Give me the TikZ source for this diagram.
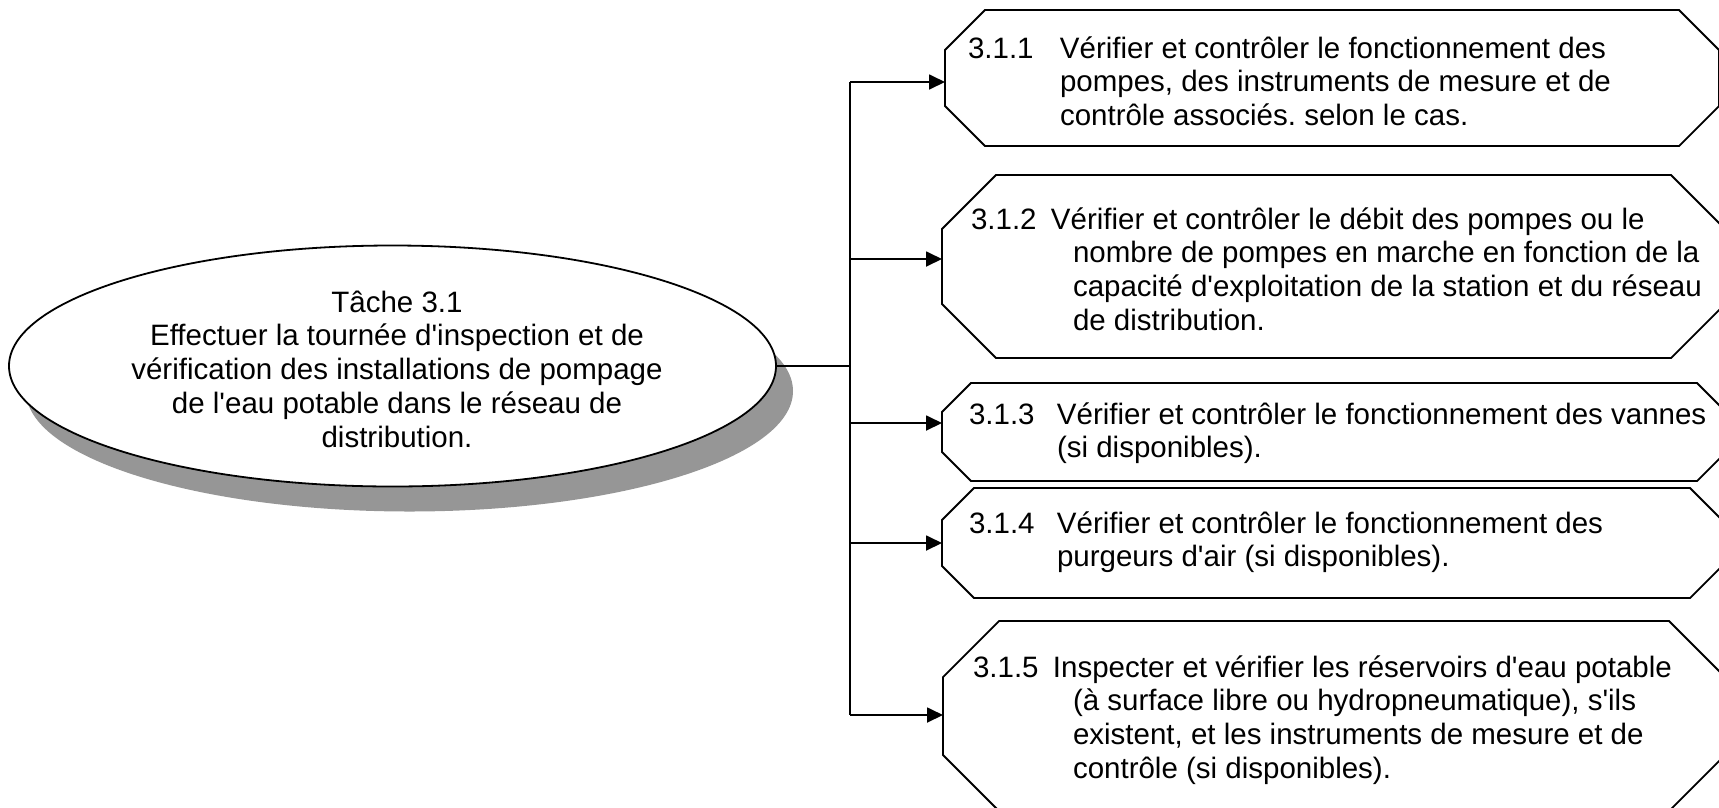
\documentclass[tikz,border=0pt]{standalone}
\usepackage{fontspec}
\newfontfamily\arial{Liberation Sans}
\usetikzlibrary{arrows.meta,shapes.geometric,calc}
\definecolor{shadowgray}{RGB}{150,150,150}
\newcommand{\lbl}[2]{\makebox[#1][l]{#2}}
\newcommand{\drawocta}[2]{%
  \draw[boxline] ($(#1.north west)+(#2,0)$) -- ($(#1.north east)+(-#2,0)$)
    -- ($(#1.north east)+(0,#2)$) -- ($(#1.south east)+(0,-#2)$)
    -- ($(#1.south east)+(-#2,0)$) -- ($(#1.south west)+(#2,0)$)
    -- ($(#1.south west)+(0,-#2)$) -- ($(#1.north west)+(0,#2)$) -- cycle;}
\frenchspacing
\begin{document}
\begin{tikzpicture}[x=1pt,y=-1pt,
  boxline/.style={line width=1.8pt,line join=miter},
  conn/.style={line width=1.8pt},
  arr/.style={line width=1.8pt,-{Triangle[length=16pt,width=15pt]}},
  frame/.style={rectangle,inner sep=0pt,outer sep=0pt},
  txt/.style={inner sep=0pt,outer sep=0pt,anchor=base west,font=\arial\frenchspacing\fontsize{29.5}{33.8}\selectfont},
  ctxt/.style={inner sep=0pt,outer sep=0pt,anchor=base,font=\arial\frenchspacing\fontsize{29.5}{33.8}\selectfont}]
\useasboundingbox (0,0) rectangle (1719,807);
% central ellipse with shadow
\node[ellipse,fill=shadowgray,minimum width=767pt,minimum height=241pt,inner sep=0pt] (taskshadow) at (409.5,391) {};
\node[ellipse,draw,fill=white,line width=1.8pt,minimum width=767pt,minimum height=241pt,inner sep=0pt] (task) at (392.5,366) {};
\node[ctxt] (tasktext) at (397,312) {\begin{tabular}[t]{@{}c@{}}T\^ache 3.1\\Effectuer la tournée d'inspection et de\\vérification des installations de pompage\\de l'eau potable dans le réseau de\\distribution.\end{tabular}};
% boxes
\node[frame,minimum width=774pt,minimum height=136pt] (b1) at (1332,78) {};
\node[frame,minimum width=783pt,minimum height=183pt] (b2) at (1333.5,266.5) {};
\node[frame,minimum width=784pt,minimum height=98pt] (b3) at (1334,432) {};
\node[frame,minimum width=780pt,minimum height=110pt] (b4) at (1332,543) {};
\node[frame,minimum width=782pt,minimum height=190pt] (b5) at (1334,716) {};
\drawocta{b1}{40}
\drawocta{b2}{54}
\drawocta{b3}{29}
\drawocta{b4}{32}
\drawocta{b5}{56}
% box texts
\node[txt] (t1txt) at (968,58) {\begin{tabular}[t]{@{}l@{}}\lbl{92pt}{3.1.1}Vérifier et contrôler le fonctionnement des\\\lbl{92pt}{}pompes, des instruments de mesure et de\\\lbl{92pt}{}contrôle associés. selon le cas.\end{tabular}};
\node[txt] (t2txt) at (971,229) {\begin{tabular}[t]{@{}l@{}}\lbl{80pt}{3.1.2}Vérifier et contrôler le débit des pompes ou le\\\lbl{102pt}{}nombre de pompes en marche en fonction de la\\\lbl{102pt}{}capacité d'exploitation de la station et du réseau\\\lbl{102pt}{}de distribution.\end{tabular}};
\node[txt] (t3txt) at (969,424) {\begin{tabular}[t]{@{}l@{}}\lbl{88pt}{3.1.3}Vérifier et contrôler le fonctionnement des vannes\\\lbl{88pt}{}(si disponibles).\end{tabular}};
\node[txt] (t4txt) at (969,533) {\begin{tabular}[t]{@{}l@{}}\lbl{88pt}{3.1.4}Vérifier et contrôler le fonctionnement des\\\lbl{88pt}{}purgeurs d'air (si disponibles).\end{tabular}};
\node[txt] (t5txt) at (973,677) {\begin{tabular}[t]{@{}l@{}}\lbl{80pt}{3.1.5}Inspecter et vérifier les réservoirs d'eau potable\\\lbl{100pt}{}(à surface libre ou hydropneumatique), s'ils\\\lbl{100pt}{}existent, et les instruments de mesure et de\\\lbl{100pt}{}contrôle (si disponibles).\end{tabular}};
% connectors
\coordinate (j) at (850,366);
\coordinate (c1) at (850,82);
\coordinate (c2) at (850,259);
\coordinate (c3) at (850,423);
\coordinate (c4) at (850,543);
\coordinate (c5) at (850,715);
\draw[conn] (task.east) -- (j);
\draw[conn] (c1) -- (c5);
\draw[arr] (c1) -- (c1 -| b1.west);
\draw[arr] (c2) -- (c2 -| b2.west);
\draw[arr] (c3) -- (c3 -| b3.west);
\draw[arr] (c4) -- (c4 -| b4.west);
\draw[arr] (c5) -- (c5 -| b5.west);
\end{tikzpicture}
\end{document}
